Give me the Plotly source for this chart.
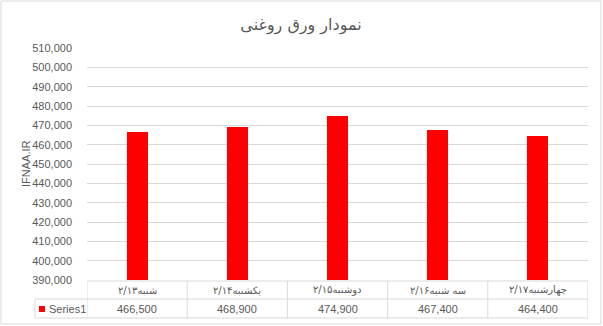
import plotly.graph_objects as go

categories = ["شنبه۲/۱۳", "یکشنبه۲/۱۴", "دوشنبه۲/۱۵", "سه شنبه۲/۱۶", "چهارشنبه۲/۱۷"]
values = [466500, 468900, 474900, 467400, 464400]
series_name = "Series1"
title_text = "نمودار ورق روغنی"
y_title = "IFNAA.IR"
y_min, y_max, y_step = 390000, 510000, 10000

W, H = 603, 326
L, R, T, B = 87, 15, 48, 46
PW, PH = W - L - R, H - T - B
n = len(values)

def px(x):
    return (x - L) / PW

def py(y):
    return (H - B - y) / PH

GRID = "#d9d9d9"
TXT = "#595959"
FONT = "Liberation Sans, DejaVu Sans, sans-serif"
AFONT = "DejaVu Sans, sans-serif"

fig = go.Figure()
fig.add_trace(go.Bar(
    x=list(range(n)), y=values, name=series_name,
    marker=dict(color="#ff0000", line=dict(width=0)), width=0.21,
    showlegend=False, hoverinfo="y",
))

shapes = []
annotations = []
# outer chart border
shapes.append(dict(type="rect", xref="paper", yref="paper",
                   x0=px(1), x1=px(601), y0=py(324), y1=py(1),
                   line=dict(color=GRID, width=1), fillcolor="rgba(0,0,0,0)", layer="below"))
# data table lines
row1_top, row1_bot, row2_bot = 281, 299, 318
legend_left = 35
shapes.append(dict(type="line", xref="paper", yref="paper", x0=0, x1=1, y0=py(row1_top), y1=py(row1_top),
                   line=dict(color=GRID, width=1)))
for yy in (row1_bot, row2_bot):
    shapes.append(dict(type="line", xref="paper", yref="paper", x0=px(legend_left), x1=1, y0=py(yy), y1=py(yy),
                       line=dict(color=GRID, width=1)))
shapes.append(dict(type="line", xref="paper", yref="paper", x0=px(legend_left), x1=px(legend_left),
                   y0=py(row1_bot), y1=py(row2_bot), line=dict(color=GRID, width=1)))
for k in range(n + 1):
    shapes.append(dict(type="line", xref="x", yref="paper", x0=k - 0.5, x1=k - 0.5,
                       y0=py(row1_top), y1=py(row2_bot), line=dict(color=GRID, width=1)))
# legend key
shapes.append(dict(type="rect", xref="paper", yref="paper", x0=px(39), x1=px(45), y0=py(312), y1=py(306),
                   line=dict(width=0), fillcolor="#ff0000"))
annotations.append(dict(text=series_name, xref="paper", yref="paper", x=px(47), y=py(309),
                        xanchor="left", yanchor="middle", showarrow=False,
                        font=dict(family=FONT, size=11, color=TXT)))
for k, (c, v) in enumerate(zip(categories, values)):
    annotations.append(dict(text=c, xref="x", yref="paper", x=k, y=py(290), xanchor="center",
                            yanchor="middle", showarrow=False, font=dict(family=AFONT, size=10, color=TXT)))
    annotations.append(dict(text=f"{v:,}", xref="x", yref="paper", x=k, y=py(309), xanchor="center",
                            yanchor="middle", showarrow=False, font=dict(family=FONT, size=11, color=TXT)))
# y-axis title
annotations.append(dict(text=y_title, xref="paper", yref="paper", x=px(26), y=0.5, textangle=-90,
                        xanchor="center", yanchor="middle", showarrow=False,
                        font=dict(family=FONT, size=11, color=TXT)))

fig.update_layout(
    width=W, height=H, autosize=False,
    margin=dict(l=L, r=R, t=T, b=B, pad=0),
    paper_bgcolor="white", plot_bgcolor="white",
    title=dict(text=title_text, xref="container", yref="container", x=301 / W, xanchor="center",
               y=1 - 24 / H, yanchor="middle",
               font=dict(family=AFONT, size=16, color=TXT)),
    xaxis=dict(range=[-0.5, n - 0.5], showticklabels=False, showgrid=False, zeroline=False,
               showline=False, ticks="", fixedrange=True),
    yaxis=dict(range=[y_min, y_max], dtick=y_step, tick0=y_min, tickformat=",", showgrid=True,
               gridcolor=GRID, gridwidth=1, zeroline=False, showline=False, ticks="",
               ticklabelstandoff=14,
               tickfont=dict(family=FONT, size=11, color=TXT)),
    shapes=shapes, annotations=annotations,
    bargap=0,
)

fig.write_html("out.html")
